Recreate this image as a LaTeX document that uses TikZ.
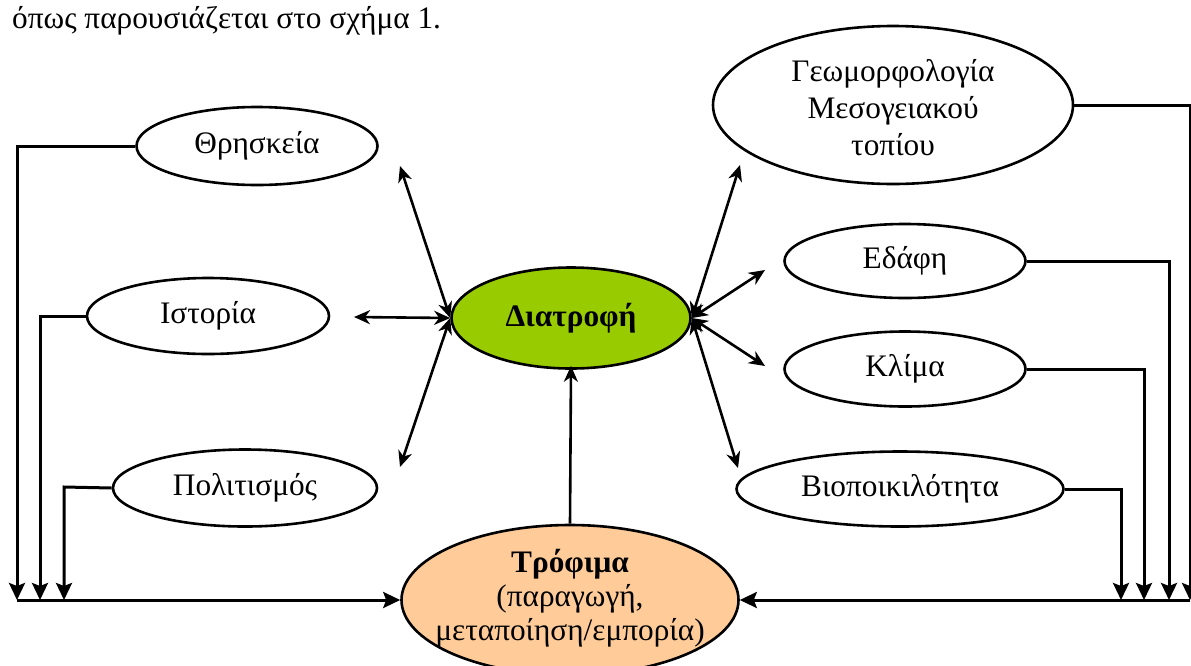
\documentclass[tikz,border=0pt]{standalone}
\usepackage{fontspec}
\setmainfont{Liberation Serif}
\usetikzlibrary{shapes.geometric,arrows.meta}
\definecolor{dgreen}{HTML}{99CC00}
\definecolor{dpeach}{HTML}{FFCC99}
\begin{document}
\begin{tikzpicture}[x=1pt,y=-1pt,
  every node/.style={font=\fontsize{31.3}{37}\selectfont},
  ell/.style={ellipse,draw,line width=2.6pt,inner sep=0pt,align=center},
  conn/.style={line width=3pt},
  tipd/.style={-{Stealth[length=17pt,width=16pt,inset=3pt]}},
  dbl/.style={line width=2.6pt,{Stealth[length=16pt,width=14pt,inset=5pt]}-{Stealth[length=16pt,width=14pt,inset=5pt]}},
  upar/.style={line width=2.6pt,-{Stealth[length=16pt,width=14pt,inset=5pt]}}]
\clip (0,0) rectangle (1191,665);
\fill[white] (0,0) rectangle (1191,665);

\node[anchor=base west,inner sep=0pt] (title) at (12,28) {όπως παρουσιάζεται στο σχήμα 1.};

% left ellipses
\node[ell,minimum width=241pt,minimum height=78pt] (thr) at (257,146) {Θρησκεία};
\node[ell,minimum width=242pt,minimum height=76pt] (ist) at (208,316) {Ιστορία};
\node[ell,minimum width=264pt,minimum height=77pt] (pol) at (245,488) {Πολιτισμός};

% right ellipses
\node[ell,minimum width=360pt,minimum height=158pt] (geo) at (893,105) {};
\node[align=center,font=\fontsize{31.3}{37}\selectfont] (geotext) at (893,108) {Γεωμορφολογία\\Μεσογειακού\\τοπίου};
\node[ell,minimum width=241pt,minimum height=74pt] (eda) at (905,261) {Εδάφη};
\node[ell,minimum width=241pt,minimum height=75pt] (kli) at (905,369) {Κλίμα};
\node[ell,minimum width=327pt,minimum height=75pt] (bio) at (900,489) {Βιοποικιλότητα};

% centre
\node[ell,fill=dgreen,minimum width=239pt,minimum height=101pt,font=\fontsize{31.3}{37}\selectfont\bfseries] (dia) at (571,318) {Διατροφή};
\node[ell,fill=dpeach,minimum width=337pt,minimum height=150pt] (tro) at (570,600) {};
\node[align=center,font=\fontsize{31.3}{34}\selectfont] (trotext) at (570,598) {\textbf{Τρόφιμα}\\(παραγωγή,\\μεταποίηση/εμπορία)};

% free ends of the arrows around Διατροφή
\coordinate (a1) at (400,166);
\coordinate (a2) at (354,317);
\coordinate (a3) at (400,467);
\coordinate (b1) at (740,165);
\coordinate (b2) at (765,270);
\coordinate (b3) at (765,366);
\coordinate (b4) at (738,468);

\draw[dbl] (a1) -- (dia.west);
\draw[dbl] (a2) -- (dia.west);
\draw[dbl] (a3) -- (dia.west);
\draw[dbl] (b1) -- (dia.east);
\draw[dbl] (b2) -- (dia.east);
\draw[dbl] (b3) -- (dia.east);
\draw[dbl] (b4) -- (dia.east);
\draw[upar] (tro.north) -- ([yshift=4pt]dia.south);

% left collector
\coordinate (l1) at (17,146);
\coordinate (l2) at (40,316);
\coordinate (l3) at (64,487);
\coordinate (l1b) at (17,600);
\coordinate (l2b) at (40,600);
\coordinate (l3b) at (64,600);
\draw[conn,tipd] (thr.west) -- (l1) -- (l1b);
\draw[conn,tipd] (ist.west) -- (l2) -- (l2b);
\draw[conn,tipd] (pol.west) -- (l3) -- (l3b);
\draw[conn,tipd] (l1b) -- (tro.west);

% right collector
\coordinate (r1) at (1121,489);
\coordinate (r2) at (1144,369);
\coordinate (r3) at (1169,261);
\coordinate (r4) at (1190,105);
\coordinate (r1b) at (1121,600);
\coordinate (r2b) at (1144,600);
\coordinate (r3b) at (1169,600);
\coordinate (r4b) at (1190,600);
\draw[conn,tipd] (bio.east) -- (r1) -- (r1b);
\draw[conn,tipd] (kli.east) -- (r2) -- (r2b);
\draw[conn,tipd] (eda.east) -- (r3) -- (r3b);
\draw[conn,tipd] (geo.east) -- (r4) -- (r4b);
\draw[conn,tipd] (r4b) -- (tro.east);
\end{tikzpicture}
\end{document}
